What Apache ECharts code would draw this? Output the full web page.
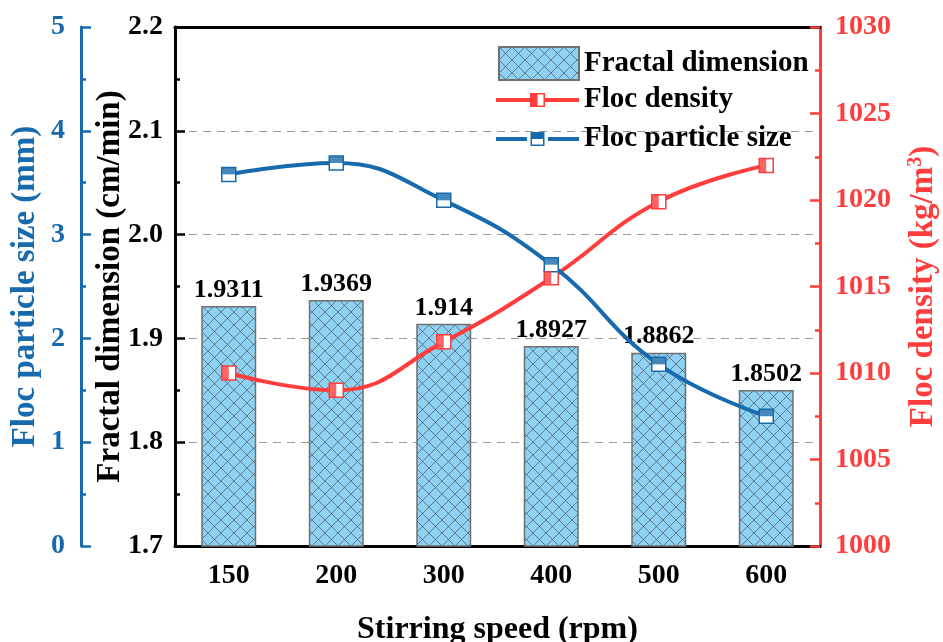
<!DOCTYPE html>
<html>
<head>
<meta charset="utf-8">
<script src="https://cdn.jsdelivr.net/npm/echarts@6/dist/echarts.min.js"></script>
<style>html,body{margin:0;padding:0;background:#fff;}#c{width:943px;height:642px;}</style>
</head>
<body>
<div id="c"></div>
<script>
// ---- data ----
const categories = ['150', '200', '300', '400', '500', '600'];
const fractalDimension = [1.9311, 1.9369, 1.914, 1.8927, 1.8862, 1.8502];
const flocDensity = [1010, 1009, 1011.8, 1015.5, 1019.9, 1022];
const flocParticleSize = [3.58, 3.69, 3.33, 2.71, 1.75, 1.25];
const fractalTicks = [1.7, 1.8, 1.9, 2.0, 2.1, 2.2];
const densityTicks = [1000, 1005, 1010, 1015, 1020, 1025, 1030];
const sizeTicks = [0, 1, 2, 3, 4, 5];

// ---- styles ----
const FONT = '"Liberation Serif", "Times New Roman", serif';
const BLUE = '#176AAD';
const RED = '#FF3D3D';
const BLACK = '#000';

// legend icons: line + half-filled square (83 x 14 box)
const ICON_RED = 'path://M0,5H34V9H0Z M49,5H83V9H49Z M34,0H41.5V14H34Z M41.5,0H49V14H41.5Z M41.5,1.5V12.5H47.5V1.5Z';
const ICON_BLUE = 'path://M0,5H31V9H0Z M52,5H83V9H52Z M34.5,0H48.5V7H34.5Z M34.5,7H48.5V14H34.5Z M36,7V12.5H47V7Z';

// crosshatch pattern
const pc = document.createElement('canvas');
pc.width = 13; pc.height = 13;
const g = pc.getContext('2d');
g.fillStyle = '#8FD1F2';
g.fillRect(0, 0, 13, 13);
g.strokeStyle = 'rgba(70,80,90,0.75)';
g.lineWidth = 0.9;
g.beginPath();
g.moveTo(0, 0); g.lineTo(13, 13);
g.moveTo(13, 0); g.lineTo(0, 13);
g.stroke();
const hatch = { image: pc, repeat: 'repeat' };

const chart = echarts.init(document.getElementById('c'), null, { renderer: 'canvas' });

const labelStyle = (color) => ({ color: color, fontFamily: FONT, fontWeight: 'bold', fontSize: 28 });
const nameStyle = (color, size) => ({ color: color, fontFamily: FONT, fontWeight: 'bold', fontSize: size || 33 });

const option = {
  animation: false,
  backgroundColor: '#fff',
  grid: { left: 175, right: 123, top: 27, bottom: 96, containLabel: false, outerBoundsMode: 'none' },
  legend: [
    {
      data: [{ name: 'Fractal dimension', icon: 'rect' }],
      left: 498, top: 46, padding: 0,
      itemWidth: 80, itemHeight: 33, itemGap: 8,
      textStyle: { fontFamily: FONT, fontWeight: 'bold', fontSize: 29, color: BLACK }
    },
    {
      data: [
        { name: 'Floc density', icon: ICON_RED, itemStyle: { color: RED, borderWidth: 0 } },
        { name: 'Floc particle size', icon: ICON_BLUE, itemStyle: { color: BLUE, borderWidth: 0 } }
      ],
      orient: 'vertical',
      left: 496, top: 85, padding: 0,
      itemWidth: 83, itemHeight: 14, itemGap: 9,
      textStyle: { fontFamily: FONT, fontWeight: 'bold', fontSize: 29, color: BLACK, lineHeight: 30 }
    }
  ],
  xAxis: [
    {
      type: 'category', data: categories, position: 'bottom',
      name: 'Stirring speed (rpm)', nameLocation: 'middle', nameGap: 68, nameMoveOverlap: false,
      nameTextStyle: nameStyle(BLACK, 32),
      axisLine: { lineStyle: { color: BLACK, width: 3 } },
      axisTick: { alignWithLabel: true, inside: true, length: 10, lineStyle: { width: 3, color: BLACK } },
      axisLabel: Object.assign(labelStyle(BLACK), { margin: 16 }),
      splitLine: { show: false }
    },
    {
      type: 'category', data: categories, position: 'bottom',
      axisLine: { show: false },
      axisTick: { inside: true, length: 5, lineStyle: { width: 3, color: BLACK } },
      axisLabel: { show: false },
      splitLine: { show: false }
    },
    {
      type: 'category', data: categories, position: 'top',
      axisLine: { lineStyle: { color: BLACK, width: 3 } },
      axisTick: { show: false }, axisLabel: { show: false }, splitLine: { show: false }
    }
  ],
  yAxis: [
    {
      type: 'value', min: fractalTicks[0], max: fractalTicks[fractalTicks.length - 1], interval: 0.1,
      position: 'left',
      name: 'Fractal dimension (cm/min)', nameLocation: 'middle', nameGap: 48, nameMoveOverlap: false,
      nameTextStyle: nameStyle(BLACK),
      axisLine: { show: true, lineStyle: { color: BLACK, width: 3 } },
      axisTick: { show: true, inside: true, length: 10, lineStyle: { width: 2.5, color: BLACK } },
      minorTick: { show: true, splitNumber: 2, length: 5, lineStyle: { width: 2.5, color: BLACK } },
      axisLabel: Object.assign(labelStyle(BLACK), { margin: 12, formatter: v => v.toFixed(1) }),
      splitLine: { show: true, lineStyle: { color: '#9a9a9a', width: 1.2, type: [8, 6] } }
    },
    {
      type: 'value', min: sizeTicks[0], max: sizeTicks[sizeTicks.length - 1], interval: 1,
      position: 'left', offset: 94,
      name: 'Floc particle size (mm)', nameLocation: 'middle', nameGap: 39, nameMoveOverlap: false,
      nameTextStyle: nameStyle(BLUE),
      axisLine: { show: true, lineStyle: { color: BLUE, width: 3 } },
      axisTick: { show: true, inside: true, length: 10, lineStyle: { width: 2.5, color: BLUE } },
      minorTick: { show: true, splitNumber: 2, length: 5, lineStyle: { width: 2.5, color: BLUE } },
      axisLabel: Object.assign(labelStyle(BLUE), { margin: 16, formatter: v => String(v) }),
      splitLine: { show: false }
    },
    {
      type: 'value', min: densityTicks[0], max: densityTicks[densityTicks.length - 1], interval: 5,
      position: 'right',
      name: 'Floc density (kg/m{sup|3})', nameLocation: 'middle', nameGap: 86, nameRotate: 90, nameMoveOverlap: false,
      nameTextStyle: Object.assign(nameStyle(RED), {
        rich: { sup: { color: RED, fontFamily: FONT, fontWeight: 'bold', fontSize: 20, verticalAlign: 'top', padding: [0, 0, 14, 0] } }
      }),
      axisLine: { show: true, lineStyle: { color: RED, width: 3 } },
      axisTick: { show: true, inside: true, length: 10, lineStyle: { width: 2.5, color: RED } },
      minorTick: { show: true, splitNumber: 2, length: 5, lineStyle: { width: 2.5, color: RED } },
      axisLabel: Object.assign(labelStyle(RED), { margin: 15, formatter: v => String(v) }),
      splitLine: { show: false }
    }
  ],
  series: [
    {
      name: 'Fractal dimension', type: 'bar', xAxisIndex: 0, yAxisIndex: 0,
      data: fractalDimension, barWidth: 55, z: 1,
      itemStyle: { color: hatch, borderColor: '#707070', borderWidth: 1.5 },
      label: { show: true, position: 'top', distance: 3, color: BLACK, fontFamily: FONT, fontWeight: 'bold', fontSize: 26,
        formatter: p => String(p.value) }
    },
    {
      name: 'Floc density', type: 'line', xAxisIndex: 0, yAxisIndex: 2,
      data: flocDensity, smooth: 0.45, z: 3,
      symbol: 'rect', symbolSize: 14,
      lineStyle: { color: RED, width: 4 },
      itemStyle: { color: '#fff', borderColor: RED, borderWidth: 1.5 }
    },
    {
      name: 'Floc particle size', type: 'line', xAxisIndex: 0, yAxisIndex: 1,
      data: flocParticleSize, smooth: 0.45, z: 3,
      symbol: 'rect', symbolSize: 14,
      lineStyle: { color: BLUE, width: 4 },
      itemStyle: { color: '#fff', borderColor: BLUE, borderWidth: 1.5 }
    },
    {
      type: 'scatter', xAxisIndex: 0, yAxisIndex: 2, data: flocDensity, z: 4,
      symbol: 'rect', symbolSize: [7, 14], symbolOffset: [-3.5, 0],
      itemStyle: { color: RED }, silent: true
    },
    {
      type: 'scatter', xAxisIndex: 0, yAxisIndex: 1, data: flocParticleSize, z: 4,
      symbol: 'rect', symbolSize: [14, 7], symbolOffset: [0, -3.5],
      itemStyle: { color: BLUE }, silent: true
    }
  ]
};
chart.setOption(option);
</script>
</body>
</html>
